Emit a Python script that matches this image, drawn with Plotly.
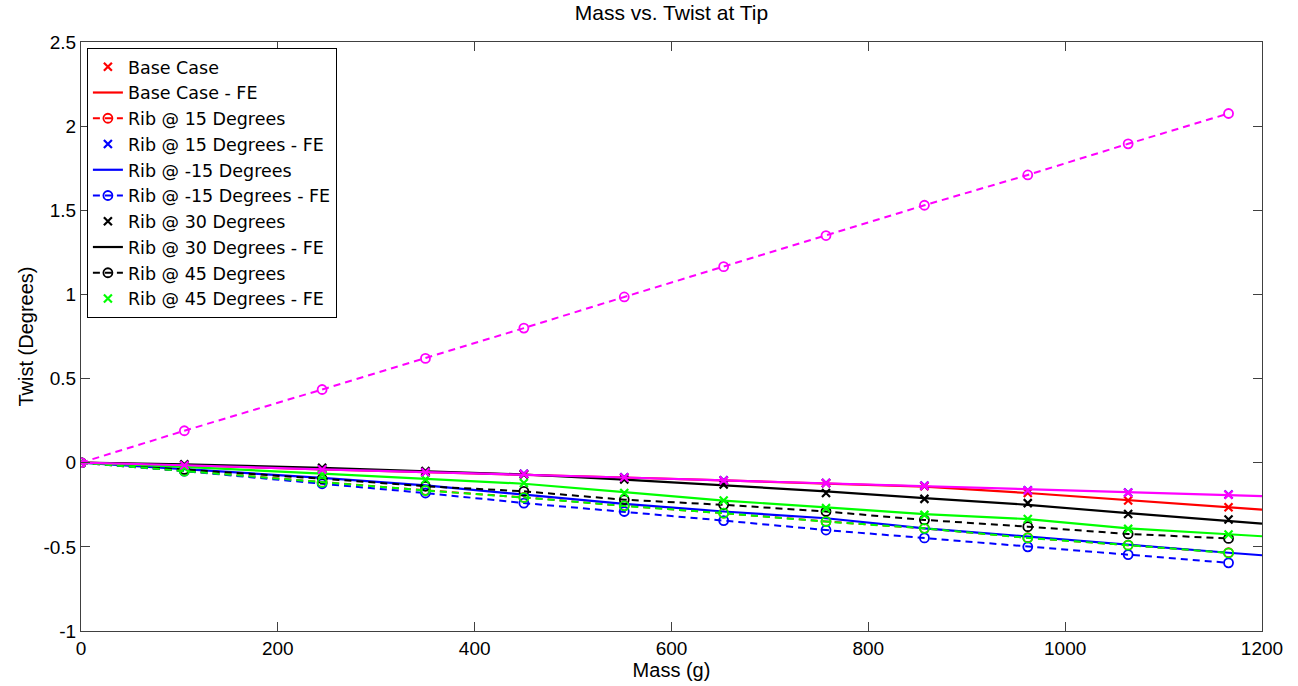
import plotly.graph_objects as go

# ---------------- data ----------------
mass = [0, 105, 245, 350, 450, 552, 653, 757, 857, 962, 1064, 1166]
mass_fe = [0, 105, 245, 350, 450, 552, 653, 757, 857, 962, 1064, 1166, 1200]

base_case = [0, -0.015, -0.04, -0.057, -0.068, -0.088, -0.106, -0.122, -0.14, -0.18, -0.225, -0.265]
base_case_fe = [0, -0.015, -0.04, -0.056, -0.068, -0.088, -0.105, -0.122, -0.142, -0.18, -0.222, -0.262, -0.279]

rib15 = [0, -0.049, -0.116, -0.164, -0.206, -0.256, -0.30, -0.349, -0.39, -0.446, -0.49, -0.535]
rib15_fe = [0, -0.014, -0.039, -0.056, -0.066, -0.087, -0.105, -0.12, -0.136, -0.164, -0.177, -0.189]

ribm15 = [0, -0.04, -0.09, -0.135, -0.19, -0.245, -0.29, -0.33, -0.39, -0.44, -0.49, -0.535, -0.55]
ribm15_fe = [0, -0.05, -0.125, -0.18, -0.24, -0.29, -0.344, -0.40, -0.447, -0.50, -0.546, -0.595]

rib30 = [0, -0.01, -0.03, -0.05, -0.07, -0.10, -0.13, -0.18, -0.215, -0.24, -0.305, -0.338]
rib30_fe = [0, -0.01, -0.03, -0.05, -0.07, -0.10, -0.135, -0.17, -0.21, -0.25, -0.30, -0.345, -0.362]

rib45 = [0, -0.04, -0.095, -0.14, -0.17, -0.22, -0.25, -0.29, -0.34, -0.38, -0.423, -0.45]
rib45_fe = [0, -0.03, -0.07, -0.10, -0.12, -0.18, -0.224, -0.27, -0.31, -0.334, -0.393, -0.427]

green_line = [0, -0.025, -0.065, -0.095, -0.125, -0.175, -0.225, -0.265, -0.305, -0.335, -0.39, -0.425, -0.437]
green_circ = [0, -0.05, -0.117, -0.165, -0.207, -0.257, -0.30, -0.35, -0.39, -0.447, -0.49, -0.536]
magenta_x = [0, -0.015, -0.04, -0.057, -0.067, -0.088, -0.106, -0.12, -0.137, -0.165, -0.178, -0.19]
magenta_line = [0, -0.015, -0.04, -0.056, -0.068, -0.088, -0.105, -0.122, -0.14, -0.16, -0.176, -0.19, -0.198]
magenta_circ = [0, 0.19, 0.435, 0.62, 0.80, 0.985, 1.165, 1.35, 1.53, 1.71, 1.895, 2.075]

x_ticks = [0, 200, 400, 600, 800, 1000, 1200]
y_ticks = [-1, -0.5, 0, 0.5, 1, 1.5, 2, 2.5]
y_tick_text = ["-1", "-0.5", "0", "0.5", "1", "1.5", "2", "2.5"]

RED, BLUE, BLACK, GREEN, MAG = "#ff0000", "#0000ff", "#000000", "#00ff00", "#ff00ff"

fig = go.Figure()

def xmark(name, y, color, show=True):
    fig.add_trace(go.Scatter(x=mass, y=y, mode="markers", name=name, showlegend=show,
                             marker=dict(symbol="x-thin-open", size=8, color=color,
                                         line=dict(color=color, width=2.2))))

def solid(name, y, color, show=True):
    fig.add_trace(go.Scatter(x=mass_fe, y=y, mode="lines", name=name, showlegend=show,
                             line=dict(color=color, width=2.2)))

def dashcirc(name, y, color, show=True):
    fig.add_trace(go.Scatter(x=mass, y=y, mode="lines+markers", name=name, showlegend=show,
                             line=dict(color=color, width=2, dash="7px,5px"),
                             marker=dict(symbol="circle-open", size=9, color=color,
                                         line=dict(color=color, width=1.8))))

xmark("Base Case", base_case, RED)
solid("Base Case - FE", base_case_fe, RED)
dashcirc("Rib @ 15 Degrees", rib15, RED)
xmark("Rib @ 15 Degrees - FE", rib15_fe, BLUE)
solid("Rib @ -15 Degrees", ribm15, BLUE)
dashcirc("Rib @ -15 Degrees - FE", ribm15_fe, BLUE)
xmark("Rib @ 30 Degrees", rib30, BLACK)
solid("Rib @ 30 Degrees - FE", rib30_fe, BLACK)
dashcirc("Rib @ 45 Degrees", rib45, BLACK)
xmark("Rib @ 45 Degrees - FE", rib45_fe, GREEN)
solid("data11", green_line, GREEN, show=False)
dashcirc("data12", green_circ, GREEN, show=False)
xmark("data13", magenta_x, MAG, show=False)
solid("data14", magenta_line, MAG, show=False)
dashcirc("data15", magenta_circ, MAG, show=False)

FONT = "Liberation Sans, Arial, sans-serif"
LEGFONT = "DejaVu Sans, Verdana, sans-serif"
axis_common = dict(showgrid=False, zeroline=False, showline=True, linecolor="#404040", linewidth=1,
                   ticks="inside", ticklen=9, tickcolor="#404040", mirror="ticks",
                   tickfont=dict(size=19, color="black", family=FONT))

fig.update_layout(
    width=1298, height=686,
    paper_bgcolor="white", plot_bgcolor="white",
    margin=dict(l=81, r=36, t=42, b=55),
    font=dict(family=FONT, color="black"),
    title=dict(text="Mass vs. Twist at Tip", x=(81 + 1262) / 2 / 1298, xanchor="center",
               y=1 - 13 / 686, yanchor="middle", font=dict(size=21, color="black")),
    xaxis=dict(range=[0, 1200], tickvals=x_ticks, ticktext=[str(v) for v in x_ticks],
               title=dict(text="Mass (g)", font=dict(size=20), standoff=1), **axis_common),
    yaxis=dict(range=[-1, 2.5], tickvals=y_ticks, ticktext=y_tick_text,
               title=dict(text="Twist (Degrees)", font=dict(size=20), standoff=4), **axis_common),
    legend=dict(x=0.005, y=0.99, xanchor="left", yanchor="top", bgcolor="white",
                bordercolor="black", borderwidth=1, font=dict(size=17.5, family=LEGFONT),
                tracegroupgap=0, itemwidth=30),
    showlegend=True,
)

fig.write_html("out.html")
